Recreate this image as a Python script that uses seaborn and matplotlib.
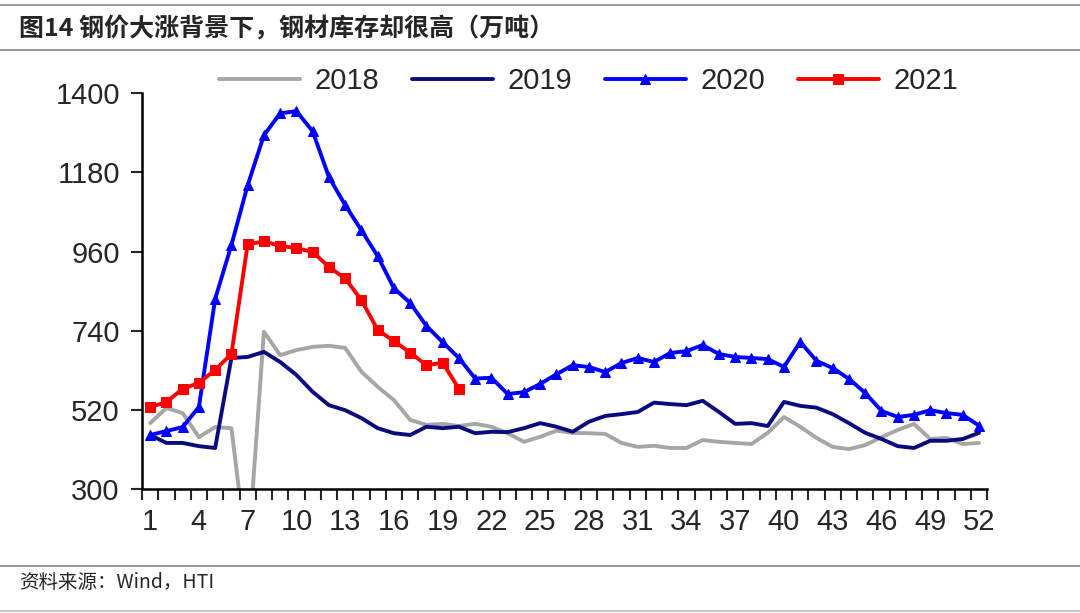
import numpy as np
import pandas as pd
import seaborn as sns
import matplotlib.pyplot as plt
from matplotlib.ticker import MultipleLocator, FixedLocator

sns.set_style("white")
plt.rcParams['font.family'] = ['Noto Sans CJK SC', 'DejaVu Sans']

weeks = list(range(1, 53))

y2018 = [483, 525, 511, 444, 472, 469, 100, 737, 672, 686, 695, 698, 692, 626, 584, 547,
         492, 478, 481, 475, 481, 473, 455, 431, 445, 462, 456, 455, 453, 428, 417, 420,
         414, 414, 436, 431, 428, 425, 456, 500, 473, 442, 417, 411, 422, 444, 464, 481,
         439, 442, 425, 428]

y2019 = [450, 428, 428, 419, 414, 664, 667, 681, 653, 617, 570, 533, 519, 497, 469, 455,
         450, 473, 469, 473, 455, 459, 458, 469, 483, 473, 459, 487, 503, 508, 514, 540,
         536, 533, 545, 514, 481, 483, 475, 542, 531, 526, 508, 483, 456, 439, 419, 414,
         434, 434, 439, 456]

y2020 = [450, 461, 472, 528, 828, 978, 1144, 1283, 1344, 1350, 1294, 1167, 1089, 1019,
         947, 858, 817, 753, 708, 664, 607, 609, 564, 569, 592, 619, 644, 639, 625, 650,
         664, 653, 678, 683, 700, 675, 667, 664, 661, 639, 709, 656, 636, 606, 567, 517,
         500, 506, 519, 511, 506, 476]

y2021 = [527, 542, 578, 595, 631, 675, 980, 988, 976, 969, 959, 917, 885, 825, 742, 711,
         679, 644, 651, 578]

year_labels = ["2018", "2019", "2020", "2021"]
x_labels = list(range(1, 53, 3))
y_ticks = [300, 520, 740, 960, 1180, 1400]

fig = plt.figure(figsize=(10.8, 6.13), dpi=100)
ax = fig.add_axes([0.1315, 0.2023, 0.7825, 0.6457])

sns.lineplot(x=weeks, y=y2018, ax=ax, color="#A6A6A6", lw=2.8, label=year_labels[0])
sns.lineplot(x=weeks, y=y2019, ax=ax, color="#0A0A80", lw=2.8, label=year_labels[1])
sns.lineplot(x=weeks, y=y2020, ax=ax, color="#0000FF", lw=2.8, marker="^",
             markersize=7.5, markeredgecolor="#0000FF", label=year_labels[2])
sns.lineplot(x=weeks[:len(y2021)], y=y2021, ax=ax, color="#FF0000", lw=2.8, marker="s",
             markersize=7.5, markeredgecolor="#FF0000", label=year_labels[3])

ax.set_xlim(0.5, 52.5)
ax.set_ylim(300, 1400)
ax.set_yticks(y_ticks)
ax.set_xticks(x_labels)
ax.set_xticklabels([str(v) for v in x_labels])
ax.xaxis.set_minor_locator(MultipleLocator(1, offset=0.5))
ax.tick_params(axis="x", which="major", length=0, pad=14, labelsize=21)
ax.tick_params(axis="x", which="minor", length=8, width=1.5, direction="out", bottom=True)
ax.tick_params(axis="y", which="major", length=8, width=1.5, direction="out", left=True,
               labelsize=21, pad=8)
for t in ax.get_xticklabels() + ax.get_yticklabels():
    t.set_family(["Liberation Sans", "DejaVu Sans"])
ax.set_xlabel("")
ax.set_ylabel("")
sns.despine(ax=ax)
ax.spines["left"].set_linewidth(1.8)
ax.spines["bottom"].set_linewidth(1.8)
ax.spines["left"].set_color("black")
ax.spines["bottom"].set_color("black")

leg = ax.legend(loc="center", bbox_to_anchor=(0.545, 0.868), bbox_transform=fig.transFigure,
                ncol=4, frameon=False, handlelength=2.8, handletextpad=0.5,
                columnspacing=1.1, prop={"family": ["Liberation Sans"], "size": 21})

fig.add_artist(plt.Line2D([0, 1], [0.992, 0.992], color="#888888", lw=1.2))
fig.add_artist(plt.Line2D([0, 1], [0.918, 0.918], color="#888888", lw=1.2))
fig.add_artist(plt.Line2D([0, 1], [0.077, 0.077], color="#888888", lw=1.2))
fig.add_artist(plt.Line2D([0, 1], [0.003, 0.003], color="#BBBBBB", lw=1.2))

fig.text(0.018, 0.952, "图14 钢价大涨背景下，钢材库存却很高（万吨）", fontsize=18,
         fontweight="bold", va="center", ha="left")
fig.text(0.018, 0.05, "资料来源：Wind，HTI", fontsize=14, va="center", ha="left")

fig.savefig("out.png", dpi=100)
